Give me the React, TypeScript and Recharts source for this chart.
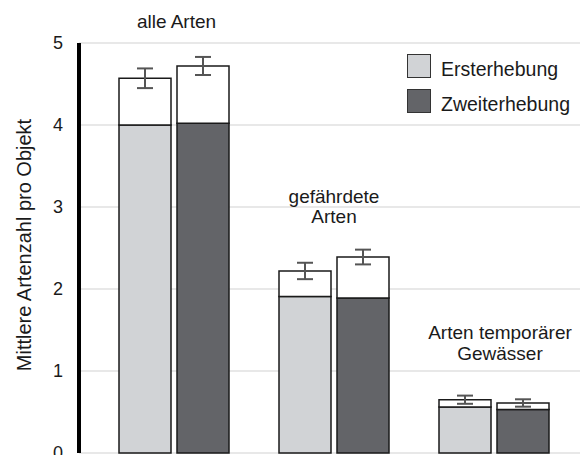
import React from 'react';
import { BarChart, Bar, XAxis, YAxis, CartesianGrid, ErrorBar, LabelList, Legend } from 'recharts';

const categories = ['alle Arten', 'gefährdete Arten', 'Arten temporärer Gewässer'];
const groupLabelLines = [['alle Arten'], ['gefährdete', 'Arten'], ['Arten temporärer', 'Gewässer']];
const seriesNames = ['Ersterhebung', 'Zweiterhebung'];
const ersterBase = [4.0, 1.91, 0.56];
const ersterTotal = [4.57, 2.22, 0.65];
const ersterErr = [0.12, 0.1, 0.05];
const zweiterBase = [4.02, 1.89, 0.53];
const zweiterTotal = [4.72, 2.39, 0.61];
const zweiterErr = [0.11, 0.09, 0.045];
const yTicks = [0, 1, 2, 3, 4, 5];
const yTitle = 'Mittlere Artenzahl pro Objekt';

// style constants
const FONT = '"Liberation Sans", Arial, Helvetica, sans-serif';
const LIGHT = '#d1d3d6';
const DARK = '#636468';
const OUTLINE = '#1a1a1a';
const BAR_GAP = 6;
const labelGap = [29, 27, 36];
const labelDx = [2.5, 0, 6];
const labelLineHeight = [20, 19.5, 21];

const data = categories.map((name, i) => ({
  name,
  e1: ersterBase[i],
  e2: +(ersterTotal[i] - ersterBase[i]).toFixed(3),
  eErr: ersterErr[i],
  z1: zweiterBase[i],
  z2: +(zweiterTotal[i] - zweiterBase[i]).toFixed(3),
  zErr: zweiterErr[i],
}));

const renderGroupLabel = (props: any) => {
  const vb = props.viewBox && typeof props.viewBox.x === 'number' ? props.viewBox : props;
  const { x, y, height } = vb;
  const index = props.index;
  if (index == null || !height) return null;
  const base = zweiterBase[index];
  const pxPerUnit = height / base;
  const y0 = y + height;
  const top = Math.max(ersterTotal[index] + ersterErr[index], zweiterTotal[index] + zweiterErr[index]);
  const topPx = y0 - top * pxPerUnit;
  const cx = x - BAR_GAP / 2 + labelDx[index];
  const lines = groupLabelLines[index];
  const lh = labelLineHeight[index];
  const lastBaseline = topPx - labelGap[index];
  return (
    <g>
      {lines.map((t, k) => (
        <text
          key={k}
          x={cx}
          y={lastBaseline - (lines.length - 1 - k) * lh}
          textAnchor="middle"
          fontSize={19}
          fontFamily={FONT}
          fill="#1a1a1a"
        >
          {t}
        </text>
      ))}
    </g>
  );
};

const renderLegend = () => (
  <div style={{ fontFamily: FONT, fontSize: 19.5, color: '#1a1a1a' }}>
    {seriesNames.map((n, i) => (
      <div key={n} style={{ display: 'flex', alignItems: 'flex-start', height: 24, marginBottom: i === 0 ? 11 : 0 }}>
        <div
          style={{
            width: 24,
            height: 24,
            boxSizing: 'border-box',
            border: '1.5px solid #333',
            background: i === 0 ? LIGHT : DARK,
          }}
        />
        <div style={{ marginLeft: 10, lineHeight: '24px', paddingTop: 3, whiteSpace: 'nowrap' }}>{n}</div>
      </div>
    ))}
  </div>
);

const renderYTitle = (props: any) => {
  const vb = props.viewBox || {};
  const cy = (vb.y ?? 43) + (vb.height ?? 410) / 2 - 3;
  return (
    <text
      transform={`translate(31, ${cy}) rotate(-90)`}
      textAnchor="middle"
      fontSize={20}
      fontFamily={FONT}
      fill="#1a1a1a"
    >
      {yTitle}
    </text>
  );
};

export default function App() {
  return (
    <div style={{ position: 'absolute', left: 0, top: 0, width: 580, height: 455, overflow: 'hidden', background: '#fff' }}>
      <BarChart
        width={580}
        height={455}
        data={data}
        margin={{ top: 43, right: 0, left: 0, bottom: 2 }}
        barSize={52}
        barGap={BAR_GAP}
        style={{ fontFamily: FONT }}
      >
        <CartesianGrid vertical={false} stroke="#d2d2d2" strokeWidth={1.2} />
        <XAxis
          dataKey="name"
          height={0}
          tick={false}
          tickLine={false}
          axisLine={{ stroke: '#555', strokeWidth: 2 }}
          padding={{ left: 15, right: 6 }}
        />
        <YAxis
          width={79}
          domain={[0, 5]}
          ticks={yTicks}
          interval={0}
          tickLine={false}
          tickSize={0}
          tickMargin={16}
          axisLine={{ stroke: '#000', strokeWidth: 4 }}
          tick={{ fontSize: 18, fill: '#1a1a1a', fontFamily: FONT }}
          label={{ content: renderYTitle }}
        />
        <Legend
          layout="horizontal"
          verticalAlign="middle"
          align="center"
          content={renderLegend}
          wrapperStyle={{ top: 54, left: 407, width: 'auto', height: 'auto' }}
        />
        <Bar dataKey="e1" stackId="e" name={seriesNames[0]} fill={LIGHT} stroke={OUTLINE} strokeWidth={1.5} isAnimationActive={false} />
        <Bar dataKey="e2" stackId="e" fill="#ffffff" stroke={OUTLINE} strokeWidth={1.5} isAnimationActive={false} legendType="none">
          <ErrorBar dataKey="eErr" width={8} stroke="#555" strokeWidth={2} />
        </Bar>
        <Bar dataKey="z1" stackId="z" name={seriesNames[1]} fill={DARK} stroke={OUTLINE} strokeWidth={1.5} isAnimationActive={false}>
          <LabelList dataKey="z1" content={renderGroupLabel} />
        </Bar>
        <Bar dataKey="z2" stackId="z" fill="#ffffff" stroke={OUTLINE} strokeWidth={1.5} isAnimationActive={false} legendType="none">
          <ErrorBar dataKey="zErr" width={8} stroke="#555" strokeWidth={2} />
        </Bar>
      </BarChart>
    </div>
  );
}
